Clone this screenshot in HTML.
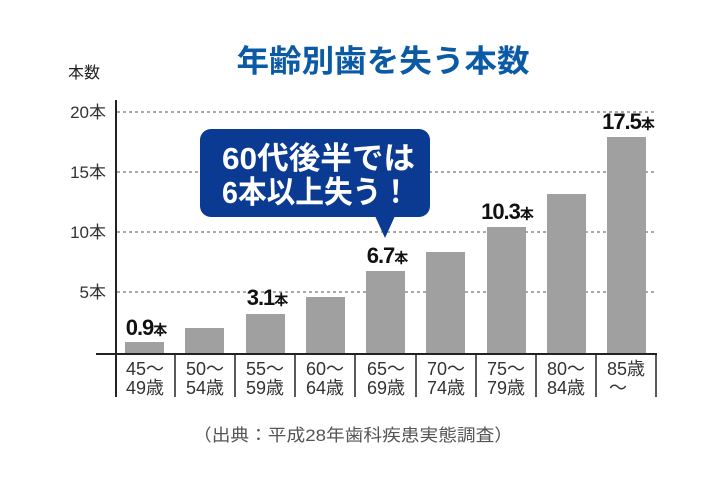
<!DOCTYPE html>
<html><head><meta charset="utf-8"><style>
html,body{margin:0;padding:0;background:#fff}
svg{display:block}
text{font-family:"Liberation Sans","Noto Sans CJK JP",sans-serif}
</style></head><body>
<svg width="720" height="480" viewBox="0 0 720 480" xmlns="http://www.w3.org/2000/svg">
<text x="383" y="72" text-anchor="middle" font-size="31" font-weight="bold" fill="#0b5aa6" textLength="293" lengthAdjust="spacingAndGlyphs">年齢別歯を失う本数</text>
<text x="68" y="78" font-size="16" fill="#222">本数</text>
<g stroke="#555" stroke-width="1" stroke-dasharray="3,3">
<line x1="117" y1="112" x2="656" y2="112"/>
<line x1="117" y1="172" x2="656" y2="172"/>
<line x1="117" y1="232" x2="656" y2="232"/>
<line x1="117" y1="292" x2="656" y2="292"/>
</g>
<g font-size="17" fill="#333" text-anchor="end">
<text x="106" y="118">20本</text>
<text x="106" y="178">15本</text>
<text x="106" y="238">10本</text>
<text x="106" y="298">5本</text>
</g>
<g fill="#a0a0a0">
<rect x="125" y="342" width="39" height="11"/>
<rect x="185" y="328" width="39" height="25"/>
<rect x="246" y="314" width="39" height="39"/>
<rect x="306" y="297" width="39" height="56"/>
<rect x="366" y="271" width="39" height="82"/>
<rect x="426" y="252" width="39" height="101"/>
<rect x="487" y="227" width="39" height="126"/>
<rect x="547" y="194" width="39" height="159"/>
<rect x="607" y="137" width="39" height="216"/>
</g>
<line x1="116" y1="100" x2="116" y2="397" stroke="#222" stroke-width="2"/>
<line x1="96" y1="354" x2="657" y2="354" stroke="#222" stroke-width="2"/>
<g stroke="#222" stroke-width="1.5">
<line x1="175" y1="354" x2="175" y2="397"/>
<line x1="235" y1="354" x2="235" y2="397"/>
<line x1="295" y1="354" x2="295" y2="397"/>
<line x1="355" y1="354" x2="355" y2="397"/>
<line x1="416" y1="354" x2="416" y2="397"/>
<line x1="476" y1="354" x2="476" y2="397"/>
<line x1="536" y1="354" x2="536" y2="397"/>
<line x1="596" y1="354" x2="596" y2="397"/>
<line x1="656" y1="354" x2="656" y2="397"/>
</g>
<g font-size="18" fill="#333" text-anchor="middle">
<text x="145" y="375">45～</text><text x="145" y="394">49歳</text>
<text x="205" y="375">50～</text><text x="205" y="394">54歳</text>
<text x="265" y="375">55～</text><text x="265" y="394">59歳</text>
<text x="325" y="375">60～</text><text x="325" y="394">64歳</text>
<text x="386" y="375">65～</text><text x="386" y="394">69歳</text>
<text x="446" y="375">70～</text><text x="446" y="394">74歳</text>
<text x="506" y="375">75～</text><text x="506" y="394">79歳</text>
<text x="566" y="375">80～</text><text x="566" y="394">84歳</text>
<text x="626" y="375">85歳</text><text x="618" y="394">～</text>
</g>
<g font-weight="bold" fill="#111" text-anchor="middle">
<text x="146" y="335" font-size="22" letter-spacing="-1">0.9<tspan font-size="14">本</tspan></text>
<text x="267" y="305" font-size="22" letter-spacing="-1">3.1<tspan font-size="14">本</tspan></text>
<text x="387" y="263" font-size="22" letter-spacing="-1">6.7<tspan font-size="14">本</tspan></text>
<text x="507" y="219" font-size="22" letter-spacing="-1">10.3<tspan font-size="14">本</tspan></text>
<text x="628" y="129" font-size="22" letter-spacing="-1">17.5<tspan font-size="14">本</tspan></text>
</g>
<rect x="200" y="129" width="230" height="88" rx="11" fill="#0a3a92"/>
<polygon points="375,216 395,216 385,238" fill="#0a3a92"/>
<g font-size="31" font-weight="bold" fill="#fff">
<text x="222" y="169" textLength="193" lengthAdjust="spacingAndGlyphs">60代後半では</text>
<text x="222" y="203" textLength="188" lengthAdjust="spacingAndGlyphs">6本以上失う！</text>
</g>
<text x="353" y="441" text-anchor="middle" font-size="17" fill="#555" textLength="320" lengthAdjust="spacingAndGlyphs">（出典：平成28年歯科疾患実態調査）</text>
</svg>
</body></html>
